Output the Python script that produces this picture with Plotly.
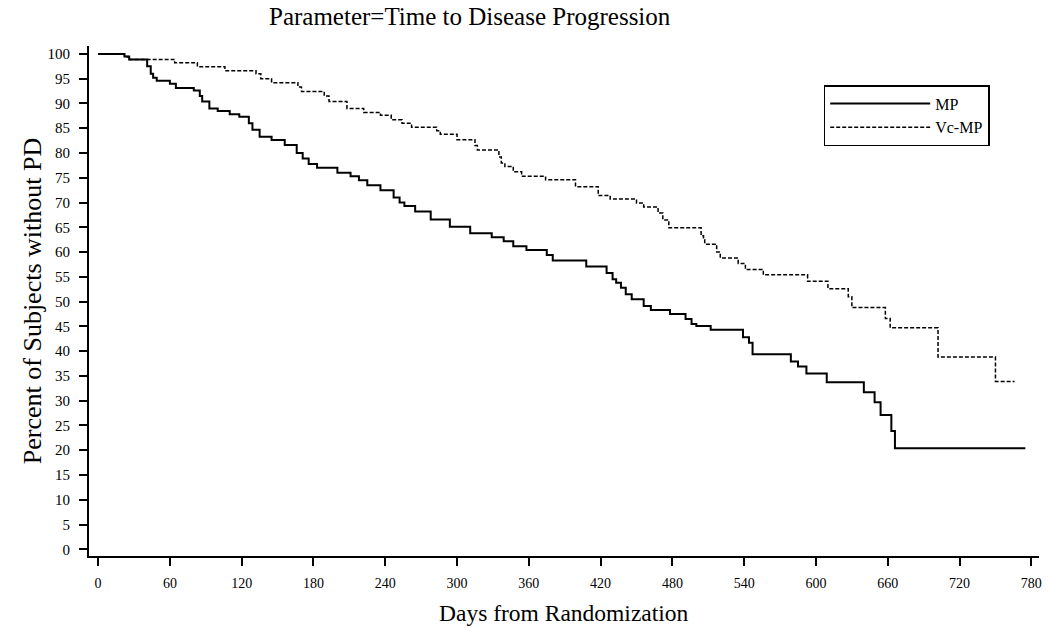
import plotly.graph_objects as go

# ---- data ----
mp_days = [0, 22, 26, 41, 44, 46, 49, 60, 65, 80,
           85, 87, 93, 100, 110, 118, 126, 129, 135, 145,
           156, 166, 171, 176, 183, 200, 211, 218, 225, 236,
           247, 252, 256, 265, 278, 294, 311, 329, 339, 347,
           358, 375, 380, 408, 425, 430, 433, 437, 441, 446,
           456, 462, 478, 491, 496, 500, 512, 539, 544, 547,
           579, 585, 592, 609, 640, 649, 654, 663, 666, 775]
mp_pct = [100, 99.5, 98.9, 97.5, 96.0, 95.2, 94.6, 94.0, 93.1, 92.6,
          91.5, 90.4, 89.0, 88.5, 87.8, 87.3, 86.0, 84.7, 83.3, 82.6,
          81.6, 80.0, 78.9, 77.8, 77.0, 76.0, 75.3, 74.5, 73.5, 72.5,
          71.0, 70.0, 69.3, 68.2, 66.6, 65.1, 63.8, 63.0, 62.2, 61.2,
          60.4, 59.4, 58.3, 57.1, 55.8, 54.5, 53.8, 52.8, 51.5, 50.5,
          49.1, 48.3, 47.5, 46.5, 45.5, 45.1, 44.3, 42.8, 41.7, 39.4,
          37.9, 36.9, 35.5, 33.7, 31.7, 29.7, 27.1, 23.9, 20.4, 20.4]

vc_days = [0, 22, 25, 64, 83, 106, 132, 136, 145, 167,
           170, 189, 193, 208, 222, 236, 245, 254, 262, 283,
           286, 300, 315, 317, 335, 337, 340, 347, 354, 374,
           399, 418, 428, 450, 456, 468, 472, 477, 504, 506,
           507, 517, 520, 535, 541, 556, 593, 610, 627, 630,
           658, 662, 702, 750, 766]
vc_pct = [100, 99.5, 98.9, 98.2, 97.4, 96.6, 96.0, 95.0, 94.2, 93.3,
          92.4, 91.5, 90.4, 89.0, 88.2, 87.6, 86.7, 86.0, 85.2, 84.5,
          83.8, 82.7, 81.5, 80.6, 79.2, 78.0, 77.3, 76.2, 75.3, 74.6,
          73.2, 71.4, 70.7, 69.9, 69.1, 67.9, 66.5, 64.9, 63.3, 62.5,
          61.6, 60.0, 58.8, 57.7, 56.5, 55.4, 54.1, 52.6, 51.0, 48.8,
          46.6, 44.7, 38.8, 33.9, 33.9]

x_ticks = list(range(0, 781, 60))
x_ticklabels = [str(v) for v in x_ticks]
y_ticks = list(range(0, 101, 5))
y_ticklabels = [str(v) for v in y_ticks]

series_names = ["MP", "Vc-MP"]
title_text = "Parameter=Time to Disease Progression"
x_title = "Days from Randomization"
y_title = "Percent of Subjects without PD"

FONT = "Liberation Serif, Times New Roman, serif"

fig = go.Figure()
fig.add_trace(go.Scatter(
    x=mp_days, y=mp_pct, name=series_names[0], mode="lines",
    line=dict(shape="hv", color="black", width=2)))
fig.add_trace(go.Scatter(
    x=vc_days, y=vc_pct, name=series_names[1], mode="lines",
    line=dict(shape="hv", color="black", width=1.5, dash="4px,2px")))

axis_common = dict(
    showline=True, linecolor="black", linewidth=1.8,
    ticks="outside", ticklen=8, tickwidth=1.6, tickcolor="black",
    showgrid=False, zeroline=False, mirror=False,
)

# plot area in pixels: x 89..1042, y 46..556
fig.update_layout(
    width=1050, height=630,
    paper_bgcolor="white", plot_bgcolor="white",
    margin=dict(l=89, r=8, t=46, b=74),
    font=dict(family=FONT, color="black"),
    title=dict(text=title_text, font=dict(family=FONT, size=25, color="black"),
               x=269 / 1050, xref="container", xanchor="left",
               y=1 - 16 / 630, yanchor="middle"),
    xaxis=dict(range=[-7.6, 786.4], tickvals=x_ticks, ticktext=x_ticklabels,
               tickfont=dict(family=FONT, size=14), ticklabelstandoff=5,
               **axis_common),
    yaxis=dict(range=[-1.35, 101.6], tickvals=y_ticks, ticktext=y_ticklabels,
               tickfont=dict(family=FONT, size=15), ticklabelstandoff=6,
               **axis_common),
    showlegend=True,
    legend=dict(x=(826 - 89) / 953, y=(556 - 85) / 510, xanchor="left", yanchor="top",
                bordercolor="black", borderwidth=1.5, bgcolor="white",
                font=dict(family=FONT, size=16), itemwidth=100,
                entrywidth=170, entrywidthmode="pixels",
                tracegroupgap=0),
    annotations=[
        dict(text=x_title, xref="paper", yref="paper", x=0.5, y=(556 - 613) / 510,
             xanchor="center", yanchor="middle", showarrow=False,
             font=dict(family=FONT, size=23.5, color="black")),
        dict(text=y_title, xref="paper", yref="paper", x=(32 - 89) / 953, y=0.5,
             xanchor="center", yanchor="middle", showarrow=False, textangle=-90,
             font=dict(family=FONT, size=26, color="black")),
    ],
)

fig.write_html("out.html", config={"displayModeBar": False},
               post_script="document.body.style.margin='0';")
